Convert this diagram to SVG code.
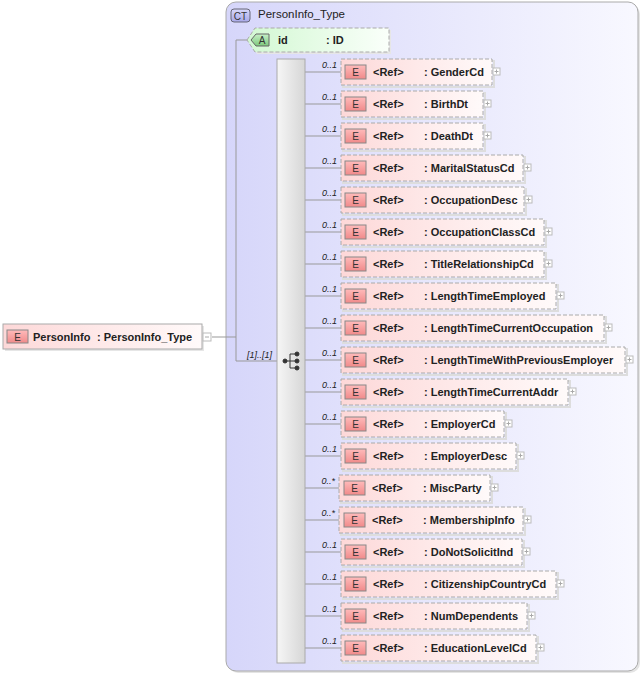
<svg xmlns="http://www.w3.org/2000/svg" width="644" height="676" viewBox="0 0 644 676">
<defs>
<linearGradient id="gCT" x1="0" y1="0" x2="1" y2="0"><stop offset="0" stop-color="#d6d6fa"/><stop offset="1" stop-color="#f8f8ff"/></linearGradient>
<linearGradient id="gEl" x1="0" y1="0" x2="1" y2="0"><stop offset="0" stop-color="#fdd8d8"/><stop offset="1" stop-color="#fffafa"/></linearGradient>
<linearGradient id="gAt" x1="0" y1="0" x2="1" y2="0"><stop offset="0" stop-color="#d2f8d2"/><stop offset="1" stop-color="#fafffa"/></linearGradient>
<linearGradient id="gE" x1="0" y1="0" x2="0" y2="1"><stop offset="0" stop-color="#fbb"/><stop offset="1" stop-color="#f08a8a"/></linearGradient>
<linearGradient id="gA" x1="0" y1="0" x2="0" y2="1"><stop offset="0" stop-color="#c8f0c8"/><stop offset="1" stop-color="#7cc87c"/></linearGradient>
<linearGradient id="gC" x1="0" y1="0" x2="0" y2="1"><stop offset="0" stop-color="#d8d8fa"/><stop offset="1" stop-color="#a8a8e8"/></linearGradient>
<linearGradient id="gSeq" x1="0" y1="0" x2="1" y2="0"><stop offset="0" stop-color="#f6f6f6"/><stop offset="1" stop-color="#d6d6d6"/></linearGradient>
</defs>
<style>
text{font-family:"Liberation Sans",Arial,sans-serif;fill:#222}
.t{font-size:11px;font-weight:bold}
.b{font-size:10px;text-anchor:middle;fill:#333}
.m{font-size:9px;font-style:italic;text-anchor:end}
.ln{stroke:#999;stroke-width:1;fill:none}
.box{fill:url(#gEl);stroke:#aaa;stroke-dasharray:4 2}
.sh{fill:none;stroke:#ddd;stroke-width:2}
.eb{fill:url(#gE);stroke:#888}
.pl{fill:#fff;stroke:#bbb}
.pk{stroke:#aaa;stroke-width:1}
</style>

<g id="ct">
<rect x="228" y="4" width="412" height="669" rx="10" fill="#e4e4e4"/>
<rect x="226" y="2" width="412" height="669" rx="10" fill="url(#gCT)" stroke="#aaa"/>
<rect x="231" y="9" width="19" height="13" rx="3" fill="url(#gC)" stroke="#667"/>
<text class="b" x="240.5" y="19.5">CT</text>
<text class="t" x="258" y="18" style="font-weight:normal;font-size:11.5px">PersonInfo_Type</text>
</g>

<g id="connectors">
<path class="ln" d="M212 337H236M236 40V361H277M236 40H247"/>
<path class="ln" d="M305 72H341M305 104H341M305 136H341M305 168H341M305 200H341M305 232H341M305 264H341M305 296H341M305 328H341M305 360H341M305 392H341M305 424H341M305 456H341M305 488H339M305 520H339M305 552H341M305 584H341M305 616H341M305 648H341"/>
</g>

<g id="attr-id">
<polygon points="249,42 257,30 391,30 391,54 257,54" fill="#e6e6e6"/>
<polygon points="247,40 255,28 389,28 389,52 255,52" fill="url(#gAt)" stroke="#aaa" stroke-dasharray="4 2"/>
<path d="M251 40 L256 34 H269 V46 H256 Z" fill="url(#gA)" stroke="#666"/>
<text class="b" x="262" y="44">A</text>
<text class="t" x="278" y="44">id</text>
<text class="t" x="326" y="44">: ID</text>
</g>

<g id="root">
<rect x="5" y="326" width="199" height="25" fill="#e6e6e6"/>
<rect x="3" y="324" width="199" height="25" fill="url(#gEl)" stroke="#aaa"/>
<rect x="7" y="330" width="21" height="13" class="eb"/>
<text class="b" x="17.5" y="340.5">E</text>
<text class="t" x="33" y="341">PersonInfo</text>
<text class="t" x="97" y="341">: PersonInfo_Type</text>
<rect x="203" y="333" width="8" height="8" class="pl"/>
<line x1="205" y1="337" x2="209" y2="337" class="pk"/>
</g>

<g id="sequence">
<rect x="277" y="59" width="28" height="604" fill="url(#gSeq)" stroke="#aaa"/>
<text class="m" x="272" y="358">[1]..[1]</text>
<g stroke="#333" fill="#333">
<path d="M285 361H290M290 354V368M290 354H297M290 361H297M290 368H297" fill="none"/>
<circle cx="285" cy="361" r="2"/><circle cx="297" cy="354" r="2"/><circle cx="297" cy="361" r="2"/><circle cx="297" cy="368" r="2"/>
</g>
</g>

<g id="el-GenderCd"><rect x="343" y="61" width="151" height="26" class="sh"/><rect x="341" y="59" width="151" height="26" class="box"/><rect x="345" y="65" width="21" height="14" class="eb"/><text class="b" x="355.5" y="76">E</text><text class="t" x="373" y="76">&lt;Ref&gt;</text><text class="t" x="424" y="76">: GenderCd</text><text class="m" x="337" y="68">0..1</text><rect x="493" y="68" width="7" height="7" class="pl"/><path d="M494.5 71.5H498.5M496.5 69.5V73.5" class="pk"/></g>
<g id="el-BirthDt"><rect x="343" y="93" width="142" height="26" class="sh"/><rect x="341" y="91" width="142" height="26" class="box"/><rect x="345" y="97" width="21" height="14" class="eb"/><text class="b" x="355.5" y="108">E</text><text class="t" x="373" y="108">&lt;Ref&gt;</text><text class="t" x="424" y="108">: BirthDt</text><text class="m" x="337" y="100">0..1</text><rect x="484" y="100" width="7" height="7" class="pl"/><path d="M485.5 103.5H489.5M487.5 101.5V105.5" class="pk"/></g>
<g id="el-DeathDt"><rect x="343" y="125" width="142" height="26" class="sh"/><rect x="341" y="123" width="142" height="26" class="box"/><rect x="345" y="129" width="21" height="14" class="eb"/><text class="b" x="355.5" y="140">E</text><text class="t" x="373" y="140">&lt;Ref&gt;</text><text class="t" x="424" y="140">: DeathDt</text><text class="m" x="337" y="132">0..1</text><rect x="484" y="132" width="7" height="7" class="pl"/><path d="M485.5 135.5H489.5M487.5 133.5V137.5" class="pk"/></g>
<g id="el-MaritalStatusCd"><rect x="343" y="157" width="182" height="26" class="sh"/><rect x="341" y="155" width="182" height="26" class="box"/><rect x="345" y="161" width="21" height="14" class="eb"/><text class="b" x="355.5" y="172">E</text><text class="t" x="373" y="172">&lt;Ref&gt;</text><text class="t" x="424" y="172">: MaritalStatusCd</text><text class="m" x="337" y="164">0..1</text><rect x="524" y="164" width="7" height="7" class="pl"/><path d="M525.5 167.5H529.5M527.5 165.5V169.5" class="pk"/></g>
<g id="el-OccupationDesc"><rect x="343" y="189" width="183" height="26" class="sh"/><rect x="341" y="187" width="183" height="26" class="box"/><rect x="345" y="193" width="21" height="14" class="eb"/><text class="b" x="355.5" y="204">E</text><text class="t" x="373" y="204">&lt;Ref&gt;</text><text class="t" x="424" y="204">: OccupationDesc</text><text class="m" x="337" y="196">0..1</text><rect x="525" y="196" width="7" height="7" class="pl"/><path d="M526.5 199.5H530.5M528.5 197.5V201.5" class="pk"/></g>
<g id="el-OccupationClassCd"><rect x="343" y="221" width="203" height="26" class="sh"/><rect x="341" y="219" width="203" height="26" class="box"/><rect x="345" y="225" width="21" height="14" class="eb"/><text class="b" x="355.5" y="236">E</text><text class="t" x="373" y="236">&lt;Ref&gt;</text><text class="t" x="424" y="236">: OccupationClassCd</text><text class="m" x="337" y="228">0..1</text><rect x="545" y="228" width="7" height="7" class="pl"/><path d="M546.5 231.5H550.5M548.5 229.5V233.5" class="pk"/></g>
<g id="el-TitleRelationshipCd"><rect x="343" y="253" width="203" height="26" class="sh"/><rect x="341" y="251" width="203" height="26" class="box"/><rect x="345" y="257" width="21" height="14" class="eb"/><text class="b" x="355.5" y="268">E</text><text class="t" x="373" y="268">&lt;Ref&gt;</text><text class="t" x="424" y="268">: TitleRelationshipCd</text><text class="m" x="337" y="260">0..1</text><rect x="545" y="260" width="7" height="7" class="pl"/><path d="M546.5 263.5H550.5M548.5 261.5V265.5" class="pk"/></g>
<g id="el-LengthTimeEmployed"><rect x="343" y="285" width="215" height="26" class="sh"/><rect x="341" y="283" width="215" height="26" class="box"/><rect x="345" y="289" width="21" height="14" class="eb"/><text class="b" x="355.5" y="300">E</text><text class="t" x="373" y="300">&lt;Ref&gt;</text><text class="t" x="424" y="300">: LengthTimeEmployed</text><text class="m" x="337" y="292">0..1</text><rect x="557" y="292" width="7" height="7" class="pl"/><path d="M558.5 295.5H562.5M560.5 293.5V297.5" class="pk"/></g>
<g id="el-LengthTimeCurrentOccupation"><rect x="343" y="317" width="263" height="26" class="sh"/><rect x="341" y="315" width="263" height="26" class="box"/><rect x="345" y="321" width="21" height="14" class="eb"/><text class="b" x="355.5" y="332">E</text><text class="t" x="373" y="332">&lt;Ref&gt;</text><text class="t" x="424" y="332">: LengthTimeCurrentOccupation</text><text class="m" x="337" y="324">0..1</text><rect x="605" y="324" width="7" height="7" class="pl"/><path d="M606.5 327.5H610.5M608.5 325.5V329.5" class="pk"/></g>
<g id="el-LengthTimeWithPreviousEmployer"><rect x="343" y="349" width="284" height="26" class="sh"/><rect x="341" y="347" width="284" height="26" class="box"/><rect x="345" y="353" width="21" height="14" class="eb"/><text class="b" x="355.5" y="364">E</text><text class="t" x="373" y="364">&lt;Ref&gt;</text><text class="t" x="424" y="364">: LengthTimeWithPreviousEmployer</text><text class="m" x="337" y="356">0..1</text><rect x="626" y="356" width="7" height="7" class="pl"/><path d="M627.5 359.5H631.5M629.5 357.5V361.5" class="pk"/></g>
<g id="el-LengthTimeCurrentAddr"><rect x="343" y="381" width="227" height="26" class="sh"/><rect x="341" y="379" width="227" height="26" class="box"/><rect x="345" y="385" width="21" height="14" class="eb"/><text class="b" x="355.5" y="396">E</text><text class="t" x="373" y="396">&lt;Ref&gt;</text><text class="t" x="424" y="396">: LengthTimeCurrentAddr</text><text class="m" x="337" y="388">0..1</text><rect x="569" y="388" width="7" height="7" class="pl"/><path d="M570.5 391.5H574.5M572.5 389.5V393.5" class="pk"/></g>
<g id="el-EmployerCd"><rect x="343" y="413" width="163" height="26" class="sh"/><rect x="341" y="411" width="163" height="26" class="box"/><rect x="345" y="417" width="21" height="14" class="eb"/><text class="b" x="355.5" y="428">E</text><text class="t" x="373" y="428">&lt;Ref&gt;</text><text class="t" x="424" y="428">: EmployerCd</text><text class="m" x="337" y="420">0..1</text><rect x="505" y="420" width="7" height="7" class="pl"/><path d="M506.5 423.5H510.5M508.5 421.5V425.5" class="pk"/></g>
<g id="el-EmployerDesc"><rect x="343" y="445" width="175" height="26" class="sh"/><rect x="341" y="443" width="175" height="26" class="box"/><rect x="345" y="449" width="21" height="14" class="eb"/><text class="b" x="355.5" y="460">E</text><text class="t" x="373" y="460">&lt;Ref&gt;</text><text class="t" x="424" y="460">: EmployerDesc</text><text class="m" x="337" y="452">0..1</text><rect x="517" y="452" width="7" height="7" class="pl"/><path d="M518.5 455.5H522.5M520.5 453.5V457.5" class="pk"/></g>
<g id="el-MiscParty"><rect x="341" y="477" width="151" height="26" class="sh"/><rect x="339" y="475" width="151" height="26" class="box"/><rect x="344" y="481" width="21" height="14" class="eb"/><text class="b" x="354.5" y="492">E</text><text class="t" x="372" y="492">&lt;Ref&gt;</text><text class="t" x="423" y="492">: MiscParty</text><text class="m" x="335" y="484">0..*</text><rect x="491" y="484" width="7" height="7" class="pl"/><path d="M492.5 487.5H496.5M494.5 485.5V489.5" class="pk"/></g>
<g id="el-MembershipInfo"><rect x="341" y="509" width="184" height="26" class="sh"/><rect x="339" y="507" width="184" height="26" class="box"/><rect x="344" y="513" width="21" height="14" class="eb"/><text class="b" x="354.5" y="524">E</text><text class="t" x="372" y="524">&lt;Ref&gt;</text><text class="t" x="423" y="524">: MembershipInfo</text><text class="m" x="335" y="516">0..*</text><rect x="524" y="516" width="7" height="7" class="pl"/><path d="M525.5 519.5H529.5M527.5 517.5V521.5" class="pk"/></g>
<g id="el-DoNotSolicitInd"><rect x="343" y="541" width="181" height="26" class="sh"/><rect x="341" y="539" width="181" height="26" class="box"/><rect x="345" y="545" width="21" height="14" class="eb"/><text class="b" x="355.5" y="556">E</text><text class="t" x="373" y="556">&lt;Ref&gt;</text><text class="t" x="424" y="556">: DoNotSolicitInd</text><text class="m" x="337" y="548">0..1</text><rect x="523" y="548" width="7" height="7" class="pl"/><path d="M524.5 551.5H528.5M526.5 549.5V553.5" class="pk"/></g>
<g id="el-CitizenshipCountryCd"><rect x="343" y="573" width="215" height="26" class="sh"/><rect x="341" y="571" width="215" height="26" class="box"/><rect x="345" y="577" width="21" height="14" class="eb"/><text class="b" x="355.5" y="588">E</text><text class="t" x="373" y="588">&lt;Ref&gt;</text><text class="t" x="424" y="588">: CitizenshipCountryCd</text><text class="m" x="337" y="580">0..1</text><rect x="557" y="580" width="7" height="7" class="pl"/><path d="M558.5 583.5H562.5M560.5 581.5V585.5" class="pk"/></g>
<g id="el-NumDependents"><rect x="343" y="605" width="186" height="26" class="sh"/><rect x="341" y="603" width="186" height="26" class="box"/><rect x="345" y="609" width="21" height="14" class="eb"/><text class="b" x="355.5" y="620">E</text><text class="t" x="373" y="620">&lt;Ref&gt;</text><text class="t" x="424" y="620">: NumDependents</text><text class="m" x="337" y="612">0..1</text><rect x="528" y="612" width="7" height="7" class="pl"/><path d="M529.5 615.5H533.5M531.5 613.5V617.5" class="pk"/></g>
<g id="el-EducationLevelCd"><rect x="343" y="637" width="195" height="26" class="sh"/><rect x="341" y="635" width="195" height="26" class="box"/><rect x="345" y="641" width="21" height="14" class="eb"/><text class="b" x="355.5" y="652">E</text><text class="t" x="373" y="652">&lt;Ref&gt;</text><text class="t" x="424" y="652">: EducationLevelCd</text><text class="m" x="337" y="644">0..1</text><rect x="537" y="644" width="7" height="7" class="pl"/><path d="M538.5 647.5H542.5M540.5 645.5V649.5" class="pk"/></g>
</svg>
